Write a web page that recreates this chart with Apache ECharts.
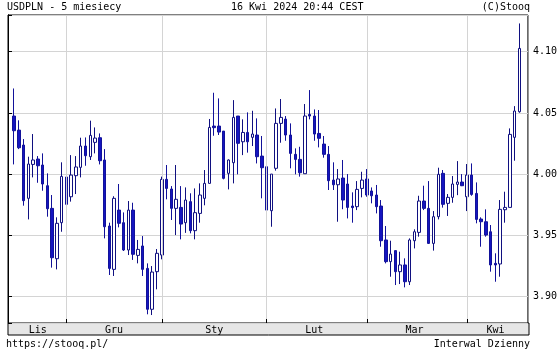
<!DOCTYPE html>
<html>
<head>
<meta charset="utf-8">
<script src="https://cdn.jsdelivr.net/npm/echarts@6/dist/echarts.min.js"></script>
<style>html,body{margin:0;padding:0;background:#fff}#c{width:560px;height:350px}</style>
</head>
<body>
<div id="c"></div>
<script>
// Trading days (categories)
const dates = [
'2023-11-16','2023-11-17','2023-11-20','2023-11-21','2023-11-22','2023-11-23','2023-11-24','2023-11-27','2023-11-28','2023-11-29','2023-11-30',
'2023-12-01','2023-12-04','2023-12-05','2023-12-06','2023-12-07','2023-12-08','2023-12-11','2023-12-12','2023-12-13','2023-12-14','2023-12-15','2023-12-18','2023-12-19','2023-12-20','2023-12-21','2023-12-22','2023-12-26','2023-12-27','2023-12-28','2023-12-29',
'2024-01-02','2024-01-03','2024-01-04','2024-01-05','2024-01-08','2024-01-09','2024-01-10','2024-01-11','2024-01-12','2024-01-15','2024-01-16','2024-01-17','2024-01-18','2024-01-19','2024-01-22','2024-01-23','2024-01-24','2024-01-25','2024-01-26','2024-01-29','2024-01-30','2024-01-31',
'2024-02-01','2024-02-02','2024-02-05','2024-02-06','2024-02-07','2024-02-08','2024-02-09','2024-02-12','2024-02-13','2024-02-14','2024-02-15','2024-02-16','2024-02-19','2024-02-20','2024-02-21','2024-02-22','2024-02-23','2024-02-26','2024-02-27','2024-02-28','2024-02-29',
'2024-03-01','2024-03-04','2024-03-05','2024-03-06','2024-03-07','2024-03-08','2024-03-11','2024-03-12','2024-03-13','2024-03-14','2024-03-15','2024-03-18','2024-03-19','2024-03-20','2024-03-21','2024-03-22','2024-03-25','2024-03-26','2024-03-27','2024-03-28','2024-03-29',
'2024-04-01','2024-04-02','2024-04-03','2024-04-04','2024-04-05','2024-04-08','2024-04-09','2024-04-10','2024-04-11','2024-04-12','2024-04-15','2024-04-16'
];
const opens = [
4.0475,4.036,4.0238,3.9803,4.008,4.0124,4.0075,3.9906,3.9721,3.931,3.9604,
3.9977,3.9816,3.9988,4.0056,4.023,4.0143,4.026,4.0298,4.0116,3.9577,3.9223,3.9707,3.9604,3.9381,3.9707,3.9337,3.9414,3.9231,3.8897,3.9204,
3.934,3.9958,3.9879,3.9721,3.9729,3.9604,3.9776,3.9539,3.968,3.9803,3.9925,4.0393,4.0393,4.0352,4.0007,4.0094,4.0475,4.0265,4.0341,4.0301,4.032,4.0148,
4.0061,3.9702,4.0048,4.0415,4.045,4.032,4.0162,4.0121,4.0004,4.0488,4.0475,4.0333,4.0246,4.0162,3.9952,3.9914,3.9969,3.992,3.974,3.9735,3.9884,
3.9961,3.9863,3.983,3.974,3.9463,3.9286,3.9376,3.9204,3.9259,3.9122,3.9457,3.9525,3.9781,3.9721,3.9435,3.9653,4.0007,3.9762,3.9811,3.9917,3.9936,
3.9816,3.9993,3.9843,3.9634,3.9612,3.953,3.9272,3.9267,3.971,3.9729,4.0301,4.051
];
const closes = [
4.0355,4.0216,3.9784,4.0083,4.0116,4.0069,3.992,3.9718,3.9318,3.9599,3.9982,
3.9754,3.9993,4.0059,4.023,4.0151,4.0317,4.0295,4.011,3.9571,3.9231,3.9803,3.9599,3.9381,3.9707,3.9346,3.9386,3.9223,3.8897,3.9201,3.9354,
3.9958,3.9884,3.9721,3.9795,3.9593,3.9789,3.9539,3.9686,3.983,3.9925,4.0382,4.038,4.0344,3.9966,4.0116,4.0464,4.0252,4.0341,4.0265,4.0328,4.0143,4.0053,
3.9707,4.0001,4.0415,4.0464,4.032,4.017,4.0121,4.0012,4.0475,4.0475,4.0328,4.0293,4.0162,3.9947,3.9914,3.9961,3.9789,3.9729,3.9727,3.9876,3.9952,
3.983,3.9824,3.9735,3.9457,3.9286,3.9348,3.9204,3.9259,3.9122,3.9463,3.953,3.9781,3.9721,3.9435,3.9653,3.9999,3.9754,3.9811,3.992,3.9936,3.9906,
3.9993,3.9835,3.9631,3.9612,3.9503,3.9259,3.9259,3.9713,3.9729,4.0325,4.0516,4.1027
];
const lows = [
4.008,4.0205,3.9743,3.9631,3.9974,3.993,3.9865,3.9653,3.9237,3.9223,3.953,
3.9686,3.9776,3.9838,3.9974,4.0069,4.0116,4.017,4.008,3.9476,3.9177,3.9169,3.9566,3.9373,3.934,3.93,3.9272,3.9169,3.8856,3.885,3.906,
3.9305,3.9795,3.9626,3.9503,3.9468,3.9521,3.9517,3.9468,3.9604,3.9746,3.9925,4.0314,4.032,3.9958,3.9876,3.9925,3.9999,4.0156,4.0176,4.023,4.0088,3.9803,
3.9672,3.9571,4.0029,4.0257,4.0273,4.0048,3.9999,3.998,4.0004,4.0448,4.0273,4.0219,4.0135,3.9871,3.9871,3.9612,3.9714,3.9639,3.9604,3.9707,3.9811,
3.9816,3.9762,3.968,3.9408,3.9272,3.9163,3.9095,3.9103,3.9076,3.9095,3.9394,3.949,3.9707,3.943,3.9376,3.9631,3.9727,3.9659,3.9767,3.9829,3.9903,
3.9699,3.9824,3.9599,3.9408,3.949,3.9204,3.9122,3.9163,3.9604,3.9729,4.011,4.0502
];
const highs = [
4.070,4.044,4.0287,4.0143,4.0328,4.0148,4.017,4.0007,3.983,3.9648,4.0097,
4.0121,4.0156,4.0148,4.0298,4.030,4.0437,4.0382,4.0333,4.0205,3.9604,3.982,3.992,3.9688,3.9781,3.9767,3.9463,3.9495,3.9272,3.925,3.9389,
3.998,4.0075,3.9903,4.0075,3.9903,3.9892,3.9844,3.9884,3.9925,4.0034,4.0451,4.0665,4.0619,4.0352,4.0121,4.0605,4.0475,4.0448,4.0505,4.0518,4.0456,4.0312,
4.0252,4.0001,4.0537,4.0614,4.0475,4.0415,4.0211,4.0224,4.0573,4.0687,4.0529,4.0524,4.0312,4.023,4.0097,4.0042,4.0116,4.0001,3.9852,3.9944,4.002,
4.0042,3.9892,3.9912,3.9789,3.9577,3.9457,3.9376,3.9367,3.9313,3.9476,3.955,3.9824,3.9906,3.9944,3.9699,4.0053,4.0034,3.9838,3.9985,4.0107,4.0001,
4.0083,4.0088,3.9933,3.9648,3.9713,3.9585,3.9354,3.9789,3.9857,4.0374,4.0556,4.1231
];
const monthNames = ['Sty','Lut','Mar','Kwi','Maj','Cze','Lip','Sie','Wrz','Paź','Lis','Gru'];
const yMin = 3.8785, yMax = 4.13;

const candles = dates.map((d, i) => [opens[i], closes[i], lows[i], highs[i]]);

// month groups
const groups = [];
dates.forEach((d, i) => {
  const k = d.slice(0, 7);
  if (!groups.length || groups[groups.length - 1].k !== k) groups.push({k: k, idx: []});
  groups[groups.length - 1].idx.push(i);
});
const monthFirst = new Set(groups.slice(1).map(g => g.idx[0]));
const monthMid = new Map(groups.map(g => [g.idx[Math.floor(g.idx.length / 2)], monthNames[parseInt(g.k.slice(5, 7), 10) - 1]]));

const FONT = '"DejaVu Sans Mono", monospace';
const chart = echarts.init(document.getElementById('c'), null, {renderer: 'canvas'});
const gridLineColor = '#d4d4d4';

chart.setOption({
  animation: false,
  backgroundColor: '#fff',
  grid: [
    {left: 8, top: 15, right: 31, bottom: 27, show: true, borderColor: '#000', borderWidth: 1, backgroundColor: '#fff', containLabel: false},
    {left: 11.6, top: 15, right: 38.3, bottom: 27, show: false, containLabel: false}
  ],
  xAxis: [
    {type: 'value', gridIndex: 0, min: 0, max: 1, show: false},
    {
      type: 'category', gridIndex: 1, data: dates, boundaryGap: true, z: 10,
      axisLine: {show: false},
      axisTick: {show: true, inside: true, length: 4, alignWithLabel: true,
        interval: (i) => monthFirst.has(i), lineStyle: {color: '#000', width: 1}},
      splitLine: {show: true, alignWithLabel: true, interval: (i) => monthFirst.has(i),
        lineStyle: {color: gridLineColor, width: 1}},
      axisLabel: {show: true, interval: (i) => monthMid.has(i), formatter: (v, i) => monthMid.get(i) || '',
        margin: 2, fontFamily: FONT, fontSize: 10, color: '#000'}
    }
  ],
  yAxis: [
    {
      type: 'value', gridIndex: 0, position: 'right', min: yMin, max: yMax, splitNumber: 5, scale: true,
      axisLine: {show: true, lineStyle: {color: '#000', width: 1}},
      axisTick: {show: true, length: 4, lineStyle: {color: '#000'}},
      splitLine: {show: true, lineStyle: {color: gridLineColor, width: 1}},
      axisLabel: {show: true, margin: 5, showMinLabel: false, showMaxLabel: false,
        formatter: (v) => v.toFixed(2), fontFamily: FONT, fontSize: 10, color: '#000'}
    },
    {
      type: 'value', gridIndex: 0, position: 'left', min: yMin, max: yMax, splitNumber: 5, scale: true,
      axisLine: {show: true, lineStyle: {color: '#000', width: 1}},
      axisTick: {show: true, inside: true, length: 4, lineStyle: {color: '#000'}},
      splitLine: {show: false}, axisLabel: {show: false}
    },
    {
      type: 'value', gridIndex: 1, min: yMin, max: yMax, scale: true, show: false,
      splitLine: {show: false}
    }
  ],
  graphic: [
    {type: 'rect', z: -1, shape: {x: 8, y: 323, width: 521, height: 12},
      style: {fill: '#e6e6e6', stroke: '#000', lineWidth: 1}},
    {type: 'text', style: {text: 'USDPLN - 5 miesiecy', x: 7, y: 7.5, font: '10px ' + FONT, fill: '#000', align: 'left', verticalAlign: 'middle'}},
    {type: 'text', style: {text: '16 Kwi 2024 20:44 CEST', x: 231, y: 7.5, font: '10px ' + FONT, fill: '#000', align: 'left', verticalAlign: 'middle'}},
    {type: 'text', style: {text: '(C)Stooq', x: 530, y: 7.5, font: '10px ' + FONT, fill: '#000', align: 'right', verticalAlign: 'middle'}},
    {type: 'text', style: {text: 'https://stooq.pl/', x: 6, y: 344, font: '10px ' + FONT, fill: '#000', align: 'left', verticalAlign: 'middle'}},
    {type: 'text', style: {text: 'Interwal Dzienny', x: 530, y: 344, font: '10px ' + FONT, fill: '#000', align: 'right', verticalAlign: 'middle'}}
  ],
  series: [{
    type: 'candlestick', xAxisIndex: 1, yAxisIndex: 2, data: candles, barWidth: 3, z: 3,
    itemStyle: {color: '#ffffff', color0: '#1515c0', borderColor: '#101080', borderColor0: '#12129a', borderWidth: 1}
  }]
});
</script>
</body>
</html>
